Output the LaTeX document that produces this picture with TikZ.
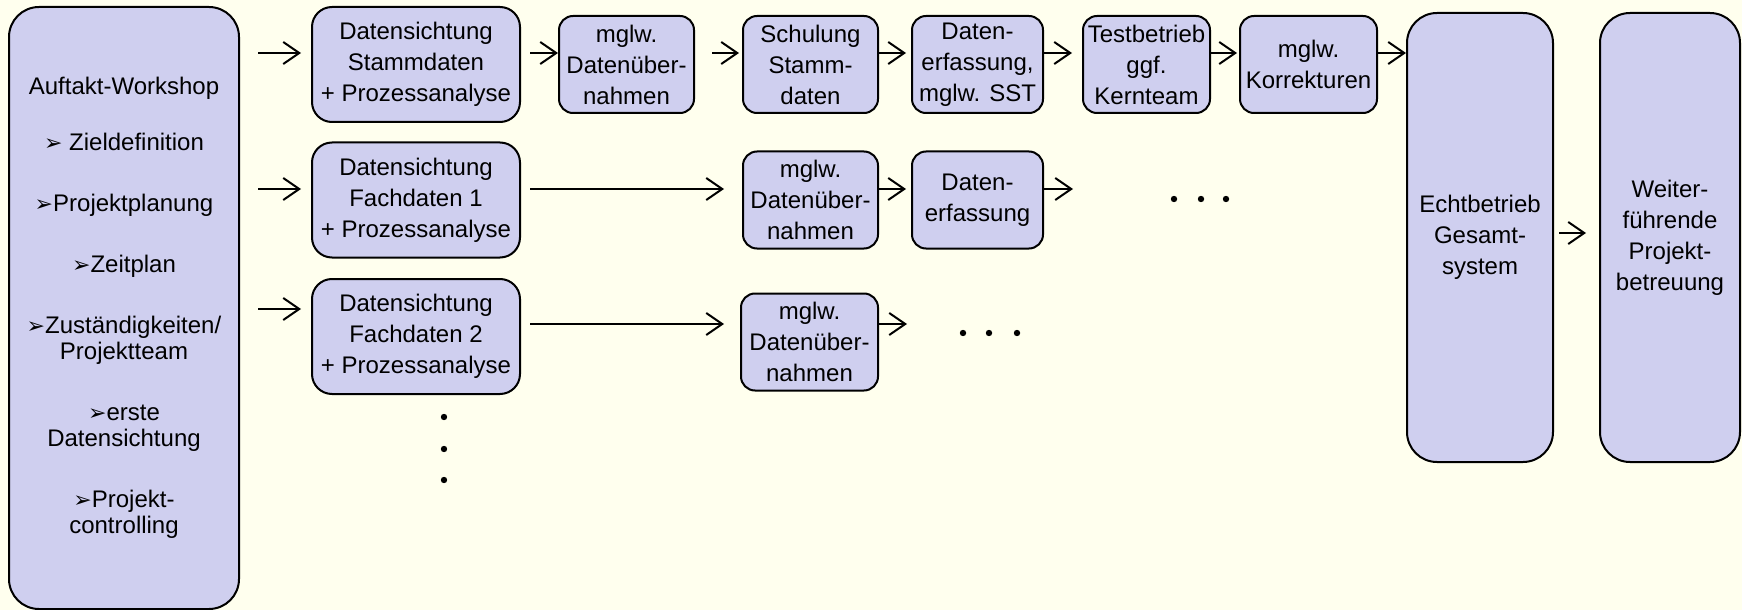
\documentclass[tikz,border=0pt]{standalone}
\usepackage{fontspec}
\setmainfont{Liberation Sans}
\newfontfamily\dingfont{DejaVu Sans}
\usetikzlibrary{arrows.meta}

\definecolor{hintergrund}{RGB}{255,255,238}
\definecolor{kastenfarbe}{RGB}{207,207,239}
\newcommand{\spitze}{{\dingfont\fontsize{11}{11}\selectfont ➢}}

\tikzset{
  kasten/.style={draw, line width=1pt, fill=kastenfarbe, align=center, inner sep=0pt,
    font=\fontsize{12}{15.5}\selectfont},
  klein/.style={kasten, rounded corners=7pt, minimum height=48.5pt},
  mittel/.style={kasten, rounded corners=10pt, minimum width=104pt, minimum height=57.5pt},
  gross/.style={kasten, rounded corners=15pt},
  pfeil/.style={-{Straight Barb[length=8pt,width=11pt]}, line width=1pt},
}

\begin{document}
\begin{tikzpicture}[x=0.5pt, y=-0.5pt]
    \path[use as bounding box, fill=hintergrund] (0,0) rectangle (1742,610);

    % Auftakt
    \node[gross, minimum width=115pt, minimum height=301pt, font=\fontsize{12}{13}\selectfont] (auftakt) at (124,308)
      {Auftakt-Workshop\\[15pt]
       \spitze{} Zieldefinition\\[17.5pt]
       \spitze{}Projektplanung\\[17.5pt]
       \spitze{}Zeitplan\\[17.5pt]
       \spitze{}Zuständigkeiten/\\ Projektteam\\[17.5pt]
       \spitze{}erste\\ Datensichtung\\[17.5pt]
       \spitze{}Projekt-\\ controlling};

    % Datensichtung
    \node[mittel] (D1) at (416,64.5) {Datensichtung\\ Stammdaten\\ + Prozessanalyse};
    \node[mittel] (D2) at (416,200) {Datensichtung\\ Fachdaten 1\\ + Prozessanalyse};
    \node[mittel] (D3) at (416,336.5) {Datensichtung\\ Fachdaten 2\\ + Prozessanalyse};

    % Stammdaten
    \node[klein, minimum width=67.5pt] (M1) at (626.5,64.5) {mglw.\\ Datenüber-\\ nahmen};
    \node[klein, minimum width=67.5pt] (S1) at (810.5,64.5) {Schulung\\ Stamm-\\ daten};
    \node[klein, minimum width=65.5pt] (E1) at (977.5,64.5) {Daten-\\ erfassung,\\ mglw. SST};
    \node[klein, minimum width=63.5pt] (T1) at (1146.5,64.5) {Testbetrieb\\ ggf.\\ Kernteam};
    \node[klein, minimum width=68.5pt] (K1) at (1308.5,64.5) {mglw.\\ Korrekturen};

    % Fachdaten 1 und 2
    \node[klein, minimum width=67.5pt] (M2) at (810.5,200) {mglw.\\ Datenüber-\\ nahmen};
    \node[klein, minimum width=65.5pt] (E2) at (977.5,200) {Daten-\\ erfassung};
    \node[klein, minimum width=68.5pt] (M3) at (809.5,342) {mglw.\\ Datenüber-\\ nahmen};

    % Echtbetrieb
    \node[gross, minimum width=73pt, minimum height=224.5pt] (echt) at (1480,237.5) {Echtbetrieb\\ Gesamt-\\ system};
    \node[gross, minimum width=70pt, minimum height=224.5pt] (weiter) at (1670,237.5) {Weiter-\\ führende\\ Projekt-\\ betreuung};

    \coordinate (z1) at (0,53);
    \coordinate (z2) at (0,189);
    \coordinate (z3) at (0,324);
    \coordinate (z3l) at (0,309);
    \coordinate (z4) at (0,233);
    \coordinate (e2aus) at (1073,189);
    \coordinate (m3aus) at (907,324);

    \draw[pfeil, shorten <=9pt, shorten >=5pt] (auftakt.east |- z1) -- (D1.west |- z1);
    \draw[pfeil, shorten <=9pt, shorten >=5pt] (auftakt.east |- z2) -- (D2.west |- z2);
    \draw[pfeil, shorten <=9pt, shorten >=5pt] (auftakt.east |- z3l) -- (D3.west |- z3l);

    \draw[pfeil, shorten <=4.5pt] (D1.east |- z1) -- (M1.west |- z1);
    \draw[pfeil, shorten <=8.5pt, shorten >=1.5pt] (M1.east |- z1) -- (S1.west |- z1);
    \draw[pfeil, shorten >=2.5pt] (S1.east |- z1) -- (E1.west |- z1);
    \draw[pfeil, shorten >=5pt] (E1.east |- z1) -- (T1.west |- z1);
    \draw[pfeil, shorten >=1pt] (T1.east |- z1) -- (K1.west |- z1);
    \draw[pfeil] (K1.east |- z1) -- (echt.west |- z1);

    \draw[pfeil, shorten <=4.5pt, shorten >=9pt] (D2.east |- z2) -- (M2.west |- z2);
    \draw[pfeil, shorten >=2.5pt] (M2.east |- z2) -- (E2.west |- z2);
    \draw[pfeil] (E2.east |- z2) -- (e2aus);

    \draw[pfeil, shorten <=4.5pt, shorten >=8pt] (D3.east |- z3) -- (M3.west |- z3);
    \draw[pfeil] (M3.east |- z3) -- (m3aus);

    \draw[pfeil, shorten <=2.5pt, shorten >=6.5pt] (echt.east |- z4) -- (weiter.west |- z4);

    % Punkte
    \foreach \x in {1174,1201,1226} \fill (\x,199) circle (1.6pt);
    \foreach \x in {963,989,1017} \fill (\x,333) circle (1.6pt);
    \foreach \y in {417,449,480} \fill (444,\y) circle (1.6pt);
\end{tikzpicture}
\end{document}
